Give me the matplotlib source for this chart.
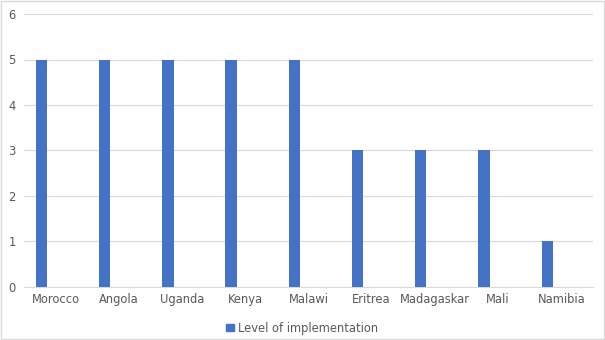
import numpy as np
import matplotlib.pyplot as plt
from matplotlib.patches import Rectangle

countries = ['Morocco', 'Angola', 'Uganda', 'Kenya', 'Malawi',
             'Eritrea', 'Madagaskar', 'Mali', 'Namibia']
level = [5, 5, 5, 5, 5, 3, 3, 3, 1]
series_name = 'Level of implementation'

bar_color = '#4472C4'
grid_color = '#D9D9D9'
text_color = '#595959'

fig = plt.figure(figsize=(6.05, 3.4), dpi=100)
ax = fig.add_axes([0.0397, 0.156, 0.9403, 0.8028])

x = np.arange(len(countries))
# bars sit left of the category centre, like the first series of a clustered group
ax.bar(x - 0.223, level, width=0.18, color=bar_color, zorder=3)

ax.set_xlim(-0.5, len(countries) - 0.5)
ax.set_ylim(0, 6)
ax.set_yticks(range(0, 7))
ax.set_xticks(x)
ax.set_xticklabels(countries)
ax.grid(axis='y', color=grid_color, linewidth=0.8, zorder=0)
ax.tick_params(length=0, labelsize=8.3, colors=text_color)
ax.tick_params(axis='x', pad=4)
ax.tick_params(axis='y', pad=6)
for side in ['top', 'left', 'right']:
    ax.spines[side].set_visible(False)
ax.spines['bottom'].set_color(grid_color)
ax.spines['bottom'].set_linewidth(0.8)

leg = ax.legend([Rectangle((0, 0), 1, 1, color=bar_color)], [series_name],
                loc='center', bbox_to_anchor=(0.5, 0.035), bbox_transform=fig.transFigure,
                frameon=False, fontsize=8.3, handlelength=0.65, handleheight=0.65,
                handletextpad=0.4)
for t in leg.get_texts():
    t.set_color(text_color)

# chart area border
fig.patches.append(Rectangle((0.001, 0.002), 0.997, 0.995, transform=fig.transFigure,
                             fill=False, edgecolor='#D9D9D9', linewidth=1))

fig.savefig('out.png', dpi=100)
